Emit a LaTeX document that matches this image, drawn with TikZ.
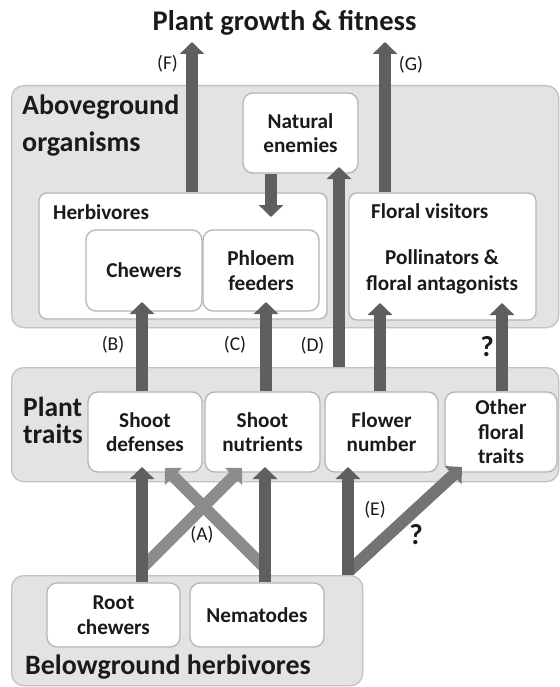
\documentclass[tikz,border=0pt]{standalone}
\usepackage{fontspec}
\setmainfont{Carlito}
\usetikzlibrary{arrows.meta,calc}
\definecolor{outerfill}{HTML}{E3E3E3}
\definecolor{outerdraw}{HTML}{C2C2C2}
\definecolor{innerdraw}{HTML}{B5B5B5}
\definecolor{arrowdark}{HTML}{5F5F5F}
\definecolor{arrowlight}{HTML}{8C8C8C}
\definecolor{arrowmid}{HTML}{737373}
\definecolor{textcol}{HTML}{1A1A1A}
\begin{document}
\begin{tikzpicture}[x=1pt,y=-1pt,
  outerbox/.style={draw=outerdraw, fill=outerfill, line width=1.3pt, rounded corners=12pt, anchor=north west, inner sep=0pt},
  innerbox/.style={draw=innerdraw, fill=white, line width=1.3pt, rounded corners=10pt,
      font=\fontsize{21.2}{24.5}\selectfont\bfseries, align=center, inner sep=0pt, text=textcol},
  sec/.style={font=\fontsize{28}{37}\selectfont\bfseries, text=textcol, inner sep=0pt},
  sub/.style={font=\fontsize{21.2}{26}\selectfont\bfseries, text=textcol, inner sep=0pt},
  lbl/.style={font=\fontsize{19.5}{21}\selectfont, text=textcol, inner sep=0pt},
  qm/.style={font=\fontsize{29}{30}\selectfont\bfseries, text=textcol, inner sep=0pt},
  conn/.style={line width=12pt, draw=arrowdark, -{Triangle[width=24pt,length=12pt]}},
]
\useasboundingbox (0,0) rectangle (559,687);

% title
\node[sec, anchor=base, font=\fontsize{28.5}{30}\selectfont\bfseries] (title) at (284.5,31) {Plant growth \& fitness};

% outer groups
\node[outerbox, minimum width=547pt, minimum height=242pt] (above) at (11,85) {};
\node[outerbox, minimum width=547pt, minimum height=114pt] (ptbox) at (11,367) {};
\node[outerbox, minimum width=351pt, minimum height=110pt] (below) at (11,575) {};

\node[sec, anchor=base west, align=left] (aboveLbl) at (22,152) {Aboveground\\organisms};
\node[sec, anchor=base west, align=left, font=\fontsize{27.5}{26.5}\selectfont\bfseries] (ptLbl) at (23,443) {Plant\\traits};
\node[sec, anchor=base west] (belowLbl) at (25,674) {Belowground herbivores};

% aboveground
\node[innerbox, minimum width=115pt, minimum height=80pt] (ne) at (300.5,133) {Natural\\enemies};
\node[innerbox, rounded corners=8pt, minimum width=288pt, minimum height=126pt] (herb) at (183,256) {};
\node[sub, anchor=base west] (herbLbl) at (53,219) {Herbivores};
\node[innerbox, minimum width=116pt, minimum height=81pt] (chew) at (144,270.5) {Chewers};
\node[innerbox, minimum width=116pt, minimum height=81pt] (phl) at (261,270.5) {Phloem\\feeders};
\node[innerbox, rounded corners=8pt, minimum width=187pt, minimum height=127pt] (flor) at (442.5,256.5) {};
\node[sub, anchor=base west] (florLbl) at (371,218) {Floral visitors};
\node[sub, anchor=base, align=center] (pollLbl) at (442,290) {Pollinators \&\\floral antagonists};

% plant traits
\node[innerbox, minimum width=114pt, minimum height=80pt] (sd) at (145,432) {Shoot\\defenses};
\node[innerbox, minimum width=115pt, minimum height=80pt] (sn) at (262.5,432) {Shoot\\nutrients};
\node[innerbox, minimum width=113pt, minimum height=80pt] (fn) at (381.5,432) {Flower\\number};
\node[innerbox, minimum width=112pt, minimum height=80pt] (of) at (501,432) {Other\\floral\\traits};

% belowground
\node[innerbox, minimum width=133pt, minimum height=64pt] (rc) at (113.5,615) {Root\\chewers};
\node[innerbox, minimum width=134pt, minimum height=64pt] (nem) at (257,615) {Nematodes};

% coordinates for free ends
\coordinate (Ftip) at (192,42);
\coordinate (Gtip) at (385,42);
\coordinate (NEtip) at (271,217);
\coordinate (Dtip) at (339,167);
\coordinate (Btip) at (142,302);
\coordinate (Ctip) at (266,302);
\coordinate (FVtip) at (380,303);
\coordinate (OFtip) at (502,303);
\coordinate (RCtip) at (142,467);
\coordinate (NMtip) at (265,467);
\coordinate (RCjoin) at (142,568);
\coordinate (NMjoin) at (265,568);
\coordinate (RCxtip) at (242,468);
\coordinate (NMxtip) at (165,468);
\coordinate (Etip) at (348,467);
\coordinate (Ejoin) at (349,571);
\coordinate (Extip) at (462,467);

% arrows
\draw[conn] (herb.north -| Ftip) -- (Ftip);
\draw[conn] (flor.north -| Gtip) -- (Gtip);
\draw[conn] (ne.south -| NEtip) -- (NEtip);
\draw[conn] (ptbox.north -| Dtip) -- (Dtip);
\draw[conn] (sd.north -| Btip) -- (Btip);
\draw[conn] (sn.north -| Ctip) -- (Ctip);
\draw[conn] (fn.north -| FVtip) -- (FVtip);
\draw[conn] (of.north -| OFtip) -- (OFtip);

\draw[conn, draw=arrowlight] (RCjoin) -- (RCxtip);
\draw[conn, draw=arrowlight] (NMjoin) -- (NMxtip);
\draw[conn] (rc.north -| RCtip) -- (RCtip);
\draw[conn] (nem.north -| NMtip) -- (NMtip);

\draw[conn, draw=arrowmid] (Ejoin) -- (Extip);
\draw[conn, draw=arrowdark] (below.north -| Etip) -- (Etip);

% labels
\node[lbl] (lF) at (167.5,64) {(F)};
\node[lbl] (lG) at (411,65) {(G)};
\node[lbl] (lB) at (113,345) {(B)};
\node[lbl] (lC) at (235,345) {(C)};
\node[lbl] (lD) at (312.5,346) {(D)};
\node[qm] (q1) at (487,347) {?};
\node[lbl] (lA) at (202,535) {(A)};
\node[lbl] (lE) at (375,510) {(E)};
\node[qm] (q2) at (416,535) {?};
\end{tikzpicture}
\end{document}
